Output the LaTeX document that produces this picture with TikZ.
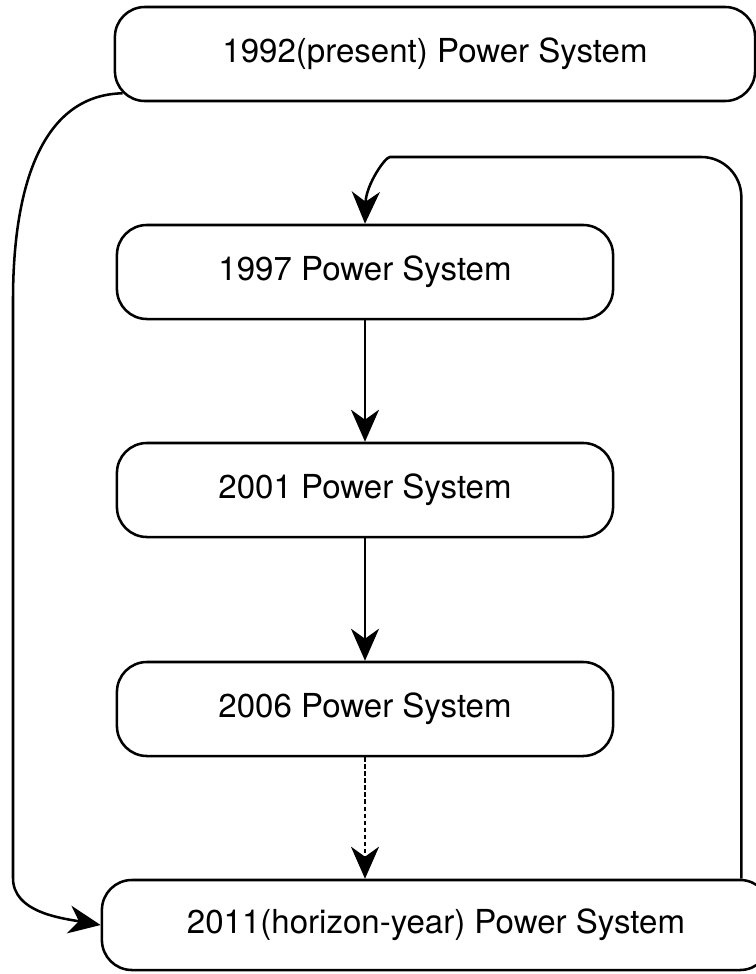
\documentclass[tikz,border=0pt]{standalone}
\usepackage{fontspec}
\setmainfont{TeX Gyre Heros}
\usetikzlibrary{arrows.meta}

\tikzset{
  psbox/.style={draw, line width=1.8pt, rounded corners=0.75cm, minimum width=12.4cm,
    minimum height=2.35cm, inner sep=0pt, font=\fontsize{23.5}{28}\selectfont},
  tip/.style={-{Stealth[length=8mm,width=7mm,inset=2.5mm]}},
}

\begin{document}
\begin{tikzpicture}[x=0.025cm,y=-0.025cm,line width=1.8pt]
        \useasboundingbox (0,0) rectangle (756,974);

        \node[psbox,minimum width=16cm] (p1992) at (435,54) {1992(present) Power System};
        \node[psbox] (p1997) at (365,272) {1997 Power System};
        \node[psbox] (p2001) at (365,490) {2001 Power System};
        \node[psbox] (p2006) at (365,709) {2006 Power System};
        \node[psbox,minimum width=16.7cm,minimum height=2.25cm] (p2011) at (436,925) {2011(horizon-year) Power System};

        \draw[tip] (p1997.south) -- (p2001.north);
        \draw[tip] (p2001.south) -- (p2006.north);
        \draw[tip,dash pattern=on 3pt off 2pt] (p2006.south) -- (p2006.south |- p2011.north);

        \draw[tip] ([shift={(9,-9)}]p1992.south west) .. controls (40,95) and (13,190) .. (13,300)
                -- (13,878) .. controls (13,912) and (60,918) .. (p2011.west);
        \draw[tip,rounded corners=1cm] ([xshift=-0.75cm]p2011.north east) |- (430,157)
                .. controls (385,157) and (366,185) .. (p1997.north);
\end{tikzpicture}
\end{document}
